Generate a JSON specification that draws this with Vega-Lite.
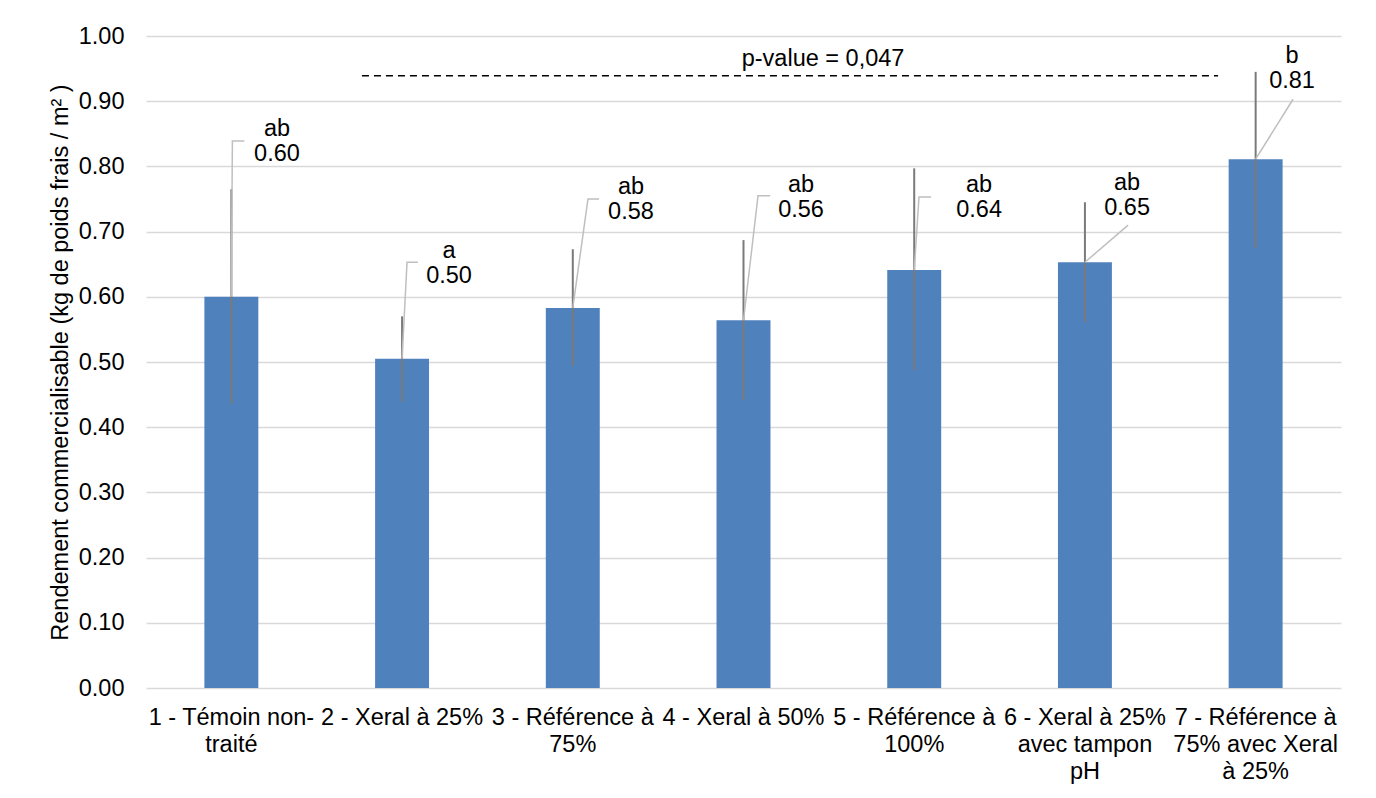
{
  "$schema": "https://vega.github.io/schema/vega-lite/v6.json",
  "width": 1195,
  "height": 652,
  "autosize": "none",
  "padding": {"left": 146, "top": 36, "right": 35, "bottom": 110},
  "background": "white",
  "config": {
    "font": "Liberation Sans",
    "view": {"stroke": null},
    "axis": {"labelColor": "#000000", "titleColor": "#000000", "labelFont": "Liberation Sans", "titleFont": "Liberation Sans"}
  },
  "datasets": {
    "traitements": [
      {"rang": 1, "traitement": "1 - Témoin non-\ntraité", "rendement": 0.600, "bas": 0.436, "haut": 0.765, "etiquette": "ab\n0.60", "ex": 1.267, "ey": 0.857},
      {"rang": 2, "traitement": "2 - Xeral à 25%", "rendement": 0.505, "bas": 0.439, "haut": 0.570, "etiquette": "a\n0.50", "ex": 2.275, "ey": 0.670},
      {"rang": 3, "traitement": "3 - Référence à\n75%", "rendement": 0.583, "bas": 0.494, "haut": 0.673, "etiquette": "ab\n0.58", "ex": 3.341, "ey": 0.768},
      {"rang": 4, "traitement": "4 - Xeral à 50%", "rendement": 0.564, "bas": 0.442, "haut": 0.687, "etiquette": "ab\n0.56", "ex": 4.337, "ey": 0.771},
      {"rang": 5, "traitement": "5 - Référence à\n100%", "rendement": 0.641, "bas": 0.487, "haut": 0.797, "etiquette": "ab\n0.64", "ex": 5.380, "ey": 0.771},
      {"rang": 6, "traitement": "6 - Xeral à 25%\navec tampon\npH", "rendement": 0.653, "bas": 0.561, "haut": 0.745, "etiquette": "ab\n0.65", "ex": 6.247, "ey": 0.774},
      {"rang": 7, "traitement": "7 - Référence à\n75% avec Xeral\nà 25%", "rendement": 0.811, "bas": 0.675, "haut": 0.945, "etiquette": "b\n0.81", "ex": 7.213, "ey": 0.969}
    ],
    "lignes_rappel": [
      {"rang": 1, "ordre": 0, "lx": 1.0, "ly": 0.600},
      {"rang": 1, "ordre": 1, "lx": 1.006, "ly": 0.839},
      {"rang": 1, "ordre": 2, "lx": 1.076, "ly": 0.839},
      {"rang": 2, "ordre": 0, "lx": 2.0, "ly": 0.505},
      {"rang": 2, "ordre": 1, "lx": 2.029, "ly": 0.653},
      {"rang": 2, "ordre": 2, "lx": 2.093, "ly": 0.653},
      {"rang": 3, "ordre": 0, "lx": 3.0, "ly": 0.583},
      {"rang": 3, "ordre": 1, "lx": 3.089, "ly": 0.750},
      {"rang": 3, "ordre": 2, "lx": 3.154, "ly": 0.750},
      {"rang": 4, "ordre": 0, "lx": 4.0, "ly": 0.564},
      {"rang": 4, "ordre": 1, "lx": 4.085, "ly": 0.755},
      {"rang": 4, "ordre": 2, "lx": 4.156, "ly": 0.755},
      {"rang": 5, "ordre": 0, "lx": 5.0, "ly": 0.641},
      {"rang": 5, "ordre": 1, "lx": 5.028, "ly": 0.753},
      {"rang": 5, "ordre": 2, "lx": 5.099, "ly": 0.753},
      {"rang": 6, "ordre": 0, "lx": 6.0, "ly": 0.653},
      {"rang": 6, "ordre": 1, "lx": 6.253, "ly": 0.710},
      {"rang": 7, "ordre": 0, "lx": 7.0, "ly": 0.811},
      {"rang": 7, "ordre": 1, "lx": 7.219, "ly": 0.903}
    ],
    "test": [
      {"debut": 1.765, "fin": 6.780, "niveau": 0.939, "texte_x": 4.466, "texte_y": 0.965, "texte": "p-value = 0,047"}
    ]
  },
  "layer": [
    {
      "data": {"name": "traitements"},
      "encoding": {
        "x": {
          "field": "traitement", "type": "nominal", "sort": {"field": "rang"},
          "scale": {"paddingInner": 0.684, "paddingOuter": 0.342},
          "axis": {
            "title": null, "labelAngle": 0, "labelExpr": "split(datum.label, '\\n')",
            "labelFontSize": 23.5, "labelLineHeight": 27, "labelPadding": 17,
            "ticks": false, "domain": false, "labelOverlap": false, "labelLimit": 400, "labelBound": false
          }
        }
      },
      "layer": [
        {
          "mark": {"type": "bar", "color": "#4f81bd"},
          "encoding": {
            "y": {
              "field": "rendement", "type": "quantitative",
              "scale": {"domain": [0, 1], "nice": false},
              "axis": {
                "title": "Rendement commercialisable (kg de poids frais / m² )",
                "titleFontSize": 23.5, "titleFontWeight": "normal", "titlePadding": 6,
                "labelFontSize": 23.5, "labelPadding": 22, "format": ".2f",
                "values": [0, 0.1, 0.2, 0.3, 0.4, 0.5, 0.6, 0.7, 0.8, 0.9, 1.0],
                "ticks": false, "domain": false,
                "gridColor": "#d9d9d9", "gridWidth": 1.5
              }
            }
          }
        },
        {
          "mark": {"type": "rule", "color": "#7a7a7a", "strokeWidth": 2},
          "encoding": {
            "y": {"field": "bas", "type": "quantitative", "title": "Rendement commercialisable (kg de poids frais / m² )"},
            "y2": {"field": "haut"}
          }
        }
      ]
    },
    {
      "layer": [
        {
          "data": {"name": "lignes_rappel"},
          "mark": {"type": "line", "color": "#bfbfbf", "strokeWidth": 1.5},
          "encoding": {
            "x": {"field": "lx", "type": "quantitative", "scale": {"domain": [0.5, 7.5], "nice": false, "zero": false}, "axis": null},
            "y": {"field": "ly", "type": "quantitative", "axis": null},
            "detail": {"field": "rang"},
            "order": {"field": "ordre"}
          }
        },
        {
          "data": {"name": "traitements"},
          "mark": {"type": "text", "fontSize": 23.5, "lineBreak": "\n", "lineHeight": 25, "align": "center", "baseline": "middle", "color": "#000000"},
          "encoding": {
            "x": {"field": "ex", "type": "quantitative", "axis": null},
            "y": {"field": "ey", "type": "quantitative", "axis": null},
            "text": {"field": "etiquette"}
          }
        },
        {
          "data": {"name": "test"},
          "mark": {"type": "rule", "color": "#000000", "strokeWidth": 1.5, "strokeDash": [7, 5]},
          "encoding": {
            "x": {"field": "debut", "type": "quantitative", "axis": null},
            "x2": {"field": "fin"},
            "y": {"field": "niveau", "type": "quantitative", "axis": null}
          }
        },
        {
          "data": {"name": "test"},
          "mark": {"type": "text", "fontSize": 23.5, "align": "center", "baseline": "middle", "color": "#000000"},
          "encoding": {
            "x": {"field": "texte_x", "type": "quantitative", "axis": null},
            "y": {"field": "texte_y", "type": "quantitative", "axis": null},
            "text": {"field": "texte"}
          }
        }
      ]
    }
  ],
  "resolve": {"scale": {"x": "independent"}, "axis": {"x": "independent", "y": "independent"}}
}
